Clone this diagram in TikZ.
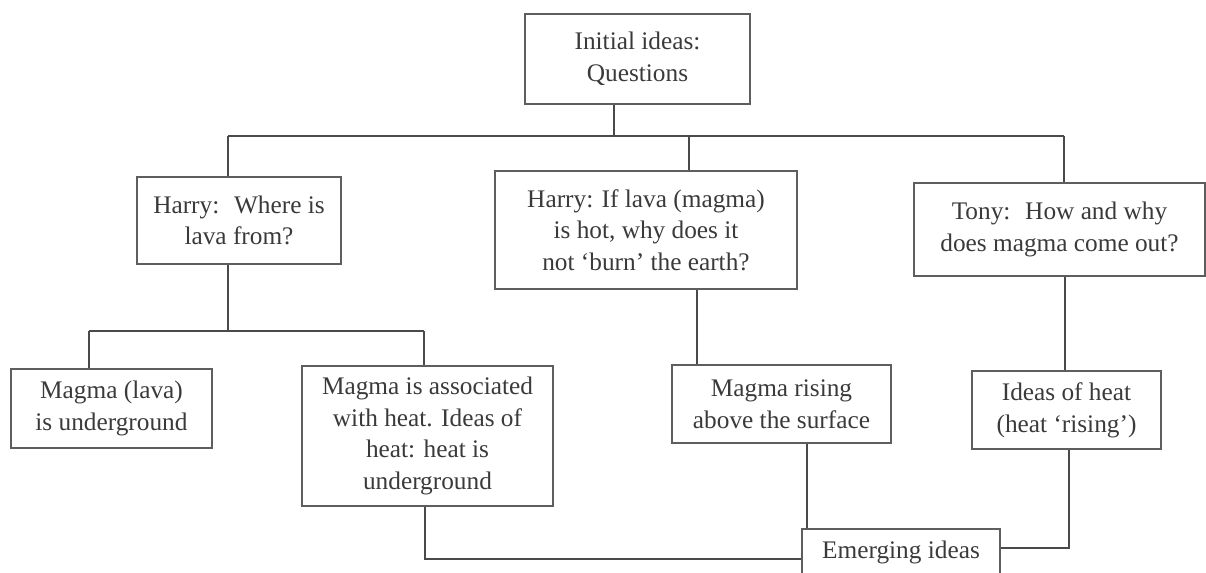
\documentclass[tikz,border=0pt]{standalone}
\usepackage{fontspec}
\setmainfont{Liberation Serif}
\usetikzlibrary{calc, positioning}

\definecolor{boxgray}{HTML}{5E5E5E}
\definecolor{linegray}{HTML}{4A4A4A}
\definecolor{txtgray}{HTML}{3A3A3A}

\tikzset{
  idea/.style={draw=boxgray, line width=0.9pt, align=center, inner sep=0pt,
    text=txtgray, font=\fontsize{18}{22.5}\selectfont},
  link/.style={draw=linegray, line width=0.9pt},
  bar/.style={draw=linegray, line width=1.5pt}
}

\begin{document}
\begin{tikzpicture}[x=0.025cm, y=-0.025cm]
\useasboundingbox (0,0) rectangle (1206,573);

% Top question
\node[idea, minimum width=5.625cm, minimum height=2.25cm] (init) at (637.5,59) {Initial ideas:\\Questions};

% Questions of the pupils
\node[idea, minimum width=5.1cm, minimum height=2.175cm] (harryA) at (239,220.5) {Harry:~ Where is\\lava from?};
\node[idea, minimum width=7.55cm, minimum height=2.95cm] (harryB) at (646,230) {Harry: If lava (magma)\\is hot, why does it\\not ‘burn’ the earth?};
\node[idea, minimum width=7.275cm, minimum height=2.325cm] (tony) at (1059.5,229.5) {Tony:~ How and why\\does magma come out?};

% Ideas under each question
\node[idea, minimum width=5.025cm, minimum height=1.975cm] (under) at (111.5,408.5) {Magma (lava)\\is underground};
\node[idea, minimum width=6.275cm, minimum height=3.5cm] (assoc) at (427.5,436) {Magma is associated\\with heat. Ideas of\\heat: heat is\\underground};
\node[idea, minimum width=5.475cm, minimum height=1.95cm] (rising) at (781.5,404) {Magma rising\\above the surface};
\node[idea, minimum width=4.725cm, minimum height=1.95cm] (heat) at (1066.5,410) {Ideas of heat\\(heat ‘rising’)};

% Emerging ideas
\node[idea, minimum width=4.95cm, minimum height=1.15cm] (emerg) at (901,552) {Emerging ideas};

% Top bar
\coordinate (topbar) at (614,136);
\coordinate (barL) at (228,136);
\coordinate (barM) at (689,136);
\coordinate (barR) at (1064,136);
\draw[link] (init.south -| topbar) -- (topbar);
\draw[bar] (barL) -- (barR);
\draw[link] (barL) -- (barL |- harryA.north);
\draw[link] (barM) -- (barM |- harryB.north);
\draw[link] (barR) -- (barR |- tony.north);

% Left bar
\coordinate (subbar) at (228,331);
\coordinate (subL) at (89,331);
\coordinate (subR) at (424,331);
\draw[link] (harryA.south -| subbar) -- (subbar);
\draw[bar] (subL) -- (subR);
\draw[link] (subL) -- (subL |- under.north);
\draw[link] (subR) -- (subR |- assoc.north);

% Middle and right stems
\coordinate (midstem) at (697,0);
\coordinate (rightstem) at (1065,0);
\draw[link] (harryB.south -| midstem) -- (rising.north -| midstem);
\draw[link] (tony.south -| rightstem) -- (heat.north -| rightstem);

% Into emerging ideas
\coordinate (lowL) at (425,559);
\coordinate (lowM) at (807,0);
\coordinate (lowR) at (1069,548);
\draw[link] (assoc.south -| lowL) -- (lowL) -- (lowL -| emerg.west);
\draw[link] (rising.south -| lowM) -- (emerg.north -| lowM);
\draw[bar] (heat.south -| lowR) -- (lowR) -- (lowR -| emerg.east);
\end{tikzpicture}
\end{document}
